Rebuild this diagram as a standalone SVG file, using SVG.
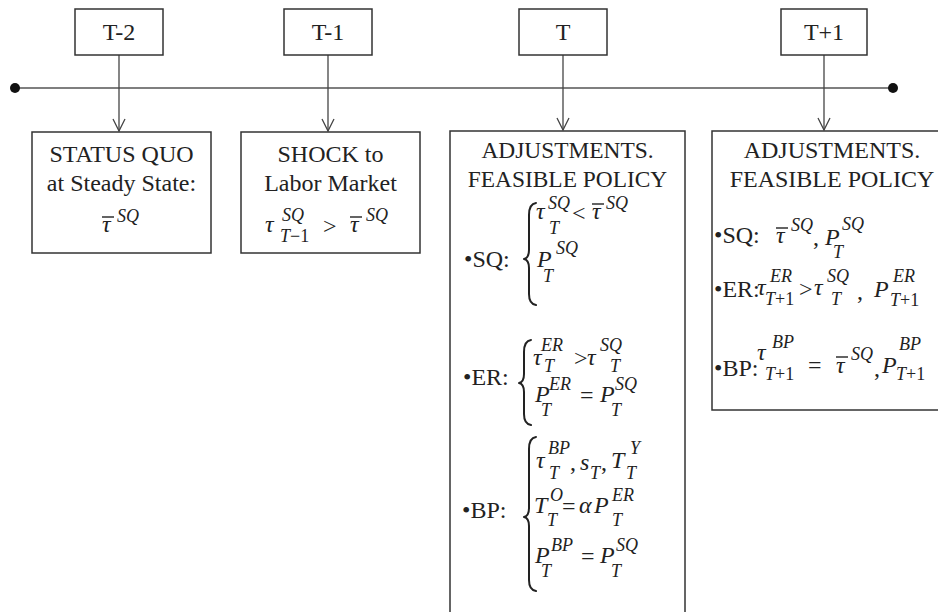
<svg xmlns="http://www.w3.org/2000/svg" width="938" height="612" viewBox="0 0 938 612">
<defs>
<style>
.t{font-family:"Liberation Serif","Times New Roman",serif;font-size:24px;fill:#222}
.c{text-anchor:middle}
.h{font-size:23.4px}
.i{font-family:"Liberation Serif","Times New Roman",serif;font-size:24px;font-style:italic;fill:#222}
.s{font-family:"Liberation Serif","Times New Roman",serif;font-size:18px;font-style:italic;fill:#222}
.n{font-style:normal}
.box{fill:#fff;stroke:#333;stroke-width:1.5}
.conn{stroke:#444;stroke-width:1.3;fill:none}
.bar{stroke:#222;stroke-width:1.4}
.brace{fill:none;stroke:#222;stroke-width:2;stroke-linejoin:round;stroke-linecap:round}
</style>
<marker id="arr" viewBox="0 0 14 14" refX="13" refY="7" markerWidth="14" markerHeight="14" markerUnits="userSpaceOnUse" orient="auto">
<path d="M1,1 L13,7 L1,13" fill="none" stroke="#444" stroke-width="1.3"/>
</marker>
</defs>
<rect width="938" height="612" fill="#fff"/>

<g id="timeline">
<line x1="15" y1="88" x2="893" y2="88" stroke="#555" stroke-width="1.6"/>
<circle cx="15" cy="88" r="5" fill="#111"/>
<circle cx="893" cy="88" r="5" fill="#111"/>
</g>

<g id="connectors">
<line class="conn" x1="119" y1="55" x2="119" y2="131" marker-end="url(#arr)"/>
<line class="conn" x1="328" y1="55" x2="328" y2="131" marker-end="url(#arr)"/>
<line class="conn" x1="563" y1="55" x2="563" y2="130" marker-end="url(#arr)"/>
<line class="conn" x1="824" y1="55" x2="824" y2="130" marker-end="url(#arr)"/>
</g>

<g id="label-t-2">
<rect class="box" x="75" y="9" width="88" height="46"/>
<text class="t c" x="119" y="40">T-2</text>
</g>
<g id="label-t-1">
<rect class="box" x="284" y="9" width="88" height="46"/>
<text class="t c" x="328" y="40">T-1</text>
</g>
<g id="label-t">
<rect class="box" x="519" y="9" width="88" height="46"/>
<text class="t c" x="563" y="40">T</text>
</g>
<g id="label-t+1">
<rect class="box" x="781" y="9" width="86" height="46"/>
<text class="t c" x="824" y="40">T+1</text>
</g>

<g id="node-status-quo">
<rect class="box" x="32" y="132" width="179" height="121"/>
<text class="t c" x="121.5" y="162">STATUS QUO</text>
<text class="t c" x="121.5" y="191">at Steady State:</text>
<text class="i" x="102" y="232">τ</text>
<line class="bar" x1="102" y1="217" x2="114" y2="217"/>
<text class="s" x="117" y="222">SQ</text>
</g>

<g id="node-shock">
<rect class="box" x="241" y="132" width="179" height="121"/>
<text class="t c" x="330.5" y="162">SHOCK to</text>
<text class="t c" x="330.5" y="191">Labor Market</text>
<text class="i" x="265" y="232">τ</text>
<text class="s" x="282" y="221">SQ</text>
<text class="s" x="280" y="242">T<tspan class="n">−1</tspan></text>
<text class="t" x="323" y="234">&gt;</text>
<text class="i" x="350" y="232">τ</text>
<line class="bar" x1="350" y1="217" x2="362" y2="217"/>
<text class="s" x="366" y="221">SQ</text>
</g>

<g id="node-adjust-t">
<rect class="box" x="450" y="131" width="235" height="500"/>
<text class="t c h" x="567.5" y="158">ADJUSTMENTS.</text>
<text class="t c h" x="567.5" y="187">FEASIBLE POLICY</text>
<!-- SQ -->
<text class="t" x="464" y="267">•SQ:</text>
<path class="brace" d="M536,203 Q529,204 529,215 L529,250 Q529,258 524,259 Q529,260 529,268 L529,294 Q529,304 536,305"/>
<text class="i" x="536" y="219">τ</text>
<text class="s" x="548" y="209">SQ</text>
<text class="s" x="549" y="234">T</text>
<text class="t" x="572" y="221">&lt;</text>
<text class="i" x="592" y="219">τ</text>
<line class="bar" x1="592" y1="204" x2="604" y2="204"/>
<text class="s" x="606" y="209">SQ</text>
<text class="i" x="537" y="267">P</text>
<text class="s" x="556" y="254">SQ</text>
<text class="s" x="543" y="282">T</text>
<!-- ER -->
<text class="t" x="463" y="385">•ER:</text>
<path class="brace" d="M531,340 Q524,341 524,352 L524,374 Q524,382 519,383 Q524,384 524,392 L524,414 Q524,424 531,425"/>
<text class="i" x="533" y="365">τ</text>
<text class="s" x="541" y="351">ER</text>
<text class="s" x="544" y="372">T</text>
<text class="t" x="574" y="366">&gt;</text>
<text class="i" x="587" y="365">τ</text>
<text class="s" x="600" y="351">SQ</text>
<text class="s" x="610" y="372">T</text>
<text class="i" x="535" y="402">P</text>
<text class="s" x="549" y="390">ER</text>
<text class="s" x="541" y="416">T</text>
<text class="t" x="580" y="403">=</text>
<text class="i" x="600" y="402">P</text>
<text class="s" x="615" y="390">SQ</text>
<text class="s" x="611" y="416">T</text>
<!-- BP -->
<text class="t" x="462" y="518">•BP:</text>
<path class="brace" d="M536,437 Q529,438 529,449 L529,508 Q529,516 524,517 Q529,518 529,526 L529,580 Q529,590 536,591"/>
<text class="i" x="536" y="468">τ</text>
<text class="s" x="548" y="454">BP</text>
<text class="s" x="549" y="479">T</text>
<text class="t" x="570" y="470">,</text>
<text class="i" x="580" y="470">s</text>
<text class="s" x="590" y="479">T</text>
<text class="t" x="601" y="470">,</text>
<text class="i" x="611" y="468">T</text>
<text class="s" x="630" y="454">Y</text>
<text class="s" x="626" y="479">T</text>
<text class="i" x="534" y="513">T</text>
<text class="s" x="550" y="501">O</text>
<text class="s" x="547" y="526">T</text>
<text class="t" x="562" y="514">=</text>
<text class="i" x="579" y="513">α</text>
<text class="i" x="594" y="513">P</text>
<text class="s" x="612" y="501">ER</text>
<text class="s" x="612" y="526">T</text>
<text class="i" x="535" y="563">P</text>
<text class="s" x="551" y="551">BP</text>
<text class="s" x="541" y="577">T</text>
<text class="t" x="581" y="564">=</text>
<text class="i" x="600" y="563">P</text>
<text class="s" x="616" y="551">SQ</text>
<text class="s" x="611" y="577">T</text>
</g>

<g id="node-adjust-t1">
<rect class="box" x="712" y="131" width="240" height="279"/>
<text class="t c" x="832" y="158">ADJUSTMENTS.</text>
<text class="t c" x="832" y="187">FEASIBLE POLICY</text>
<!-- SQ -->
<text class="t" x="714" y="243">•SQ:</text>
<text class="i" x="776" y="243">τ</text>
<line class="bar" x1="776" y1="228" x2="788" y2="228"/>
<text class="s" x="791" y="231">SQ</text>
<text class="t" x="813" y="245">,</text>
<text class="i" x="825" y="245">P</text>
<text class="s" x="842" y="230">SQ</text>
<text class="s" x="833" y="258">T</text>
<!-- ER -->
<text class="t" x="714" y="297">•ER:</text>
<text class="i" x="757" y="295">τ</text>
<text class="s" x="770" y="282">ER</text>
<text class="s" x="765" y="305">T<tspan class="n">+1</tspan></text>
<text class="t" x="799" y="297">&gt;</text>
<text class="i" x="814" y="295">τ</text>
<text class="s" x="827" y="282">SQ</text>
<text class="s" x="831" y="305">T</text>
<text class="t" x="857" y="299">,</text>
<text class="i" x="874" y="297">P</text>
<text class="s" x="893" y="282">ER</text>
<text class="s" x="890" y="306">T<tspan class="n">+1</tspan></text>
<!-- BP -->
<text class="t" x="714" y="376">•BP:</text>
<text class="i" x="757" y="360">τ</text>
<text class="s" x="772" y="348">BP</text>
<text class="s" x="765" y="380">T<tspan class="n">+1</tspan></text>
<text class="t" x="808" y="373">=</text>
<text class="i" x="836" y="373">τ</text>
<line class="bar" x1="836" y1="357" x2="848" y2="357"/>
<text class="s" x="851" y="360">SQ</text>
<text class="t" x="874" y="376">,</text>
<text class="i" x="882" y="373">P</text>
<text class="s" x="899" y="350">BP</text>
<text class="s" x="896" y="380">T<tspan class="n">+1</tspan></text>
</g>
</svg>
